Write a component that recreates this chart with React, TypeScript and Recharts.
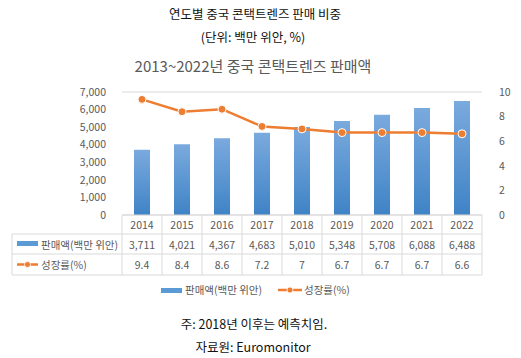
import React from 'react';
import { ComposedChart, Bar, Line, XAxis, YAxis, CartesianGrid } from 'recharts';

const years = ['2014', '2015', '2016', '2017', '2018', '2019', '2020', '2021', '2022'];
const sales = [3711, 4021, 4367, 4683, 5010, 5348, 5708, 6088, 6488];
const growth = [9.4, 8.4, 8.6, 7.2, 7, 6.7, 6.7, 6.7, 6.6];
const salesTicks = [0, 1000, 2000, 3000, 4000, 5000, 6000, 7000];
const growthTicks = [0, 2, 4, 6, 8, 10];

const data = years.map((y, i) => ({ year: y, sales: sales[i], growth: growth[i] }));

const FONT = '"Noto Sans CJK KR", "Noto Sans", sans-serif';
const TEXT = '#595959';
const GRID = '#d9d9d9';
const ORANGE = '#ed7d31';

// plot box (px, page coords)
const PLOT_LEFT = 122;
const PLOT_RIGHT = 482;
const PLOT_TOP = 92;
const PLOT_BOTTOM = 215;
const BAND = (PLOT_RIGHT - PLOT_LEFT) / years.length;
const ROW1 = 234;
const ROW2 = 254;
const ROW3 = 275;
const TABLE_LEFT = 12;

const fmt = (v: number) => v.toLocaleString('en-US');

function TableTick(props: any) {
  const { x, payload, index } = props;
  const i = payload.index ?? index;
  const l = x - BAND / 2;
  const r = x + BAND / 2;
  const last = i === years.length - 1;
  return (
    <g>
      <line x1={l} y1={PLOT_BOTTOM} x2={l} y2={ROW3} stroke={GRID} />
      {last && <line x1={r} y1={PLOT_BOTTOM} x2={r} y2={ROW3} stroke={GRID} />}
      <line x1={l} y1={ROW1} x2={r} y2={ROW1} stroke={GRID} />
      <line x1={l} y1={ROW2} x2={r} y2={ROW2} stroke={GRID} />
      <line x1={l} y1={ROW3} x2={r} y2={ROW3} stroke={GRID} />
      <text x={x} y={(PLOT_BOTTOM + ROW1) / 2} textAnchor="middle" dominantBaseline="central" fill={TEXT} fontSize={10.5} fontFamily={FONT}>
        {payload.value}
      </text>
      <text x={x} y={(ROW1 + ROW2) / 2} textAnchor="middle" dominantBaseline="central" fill={TEXT} fontSize={10.5} fontFamily={FONT}>
        {fmt(sales[i])}
      </text>
      <text x={x} y={(ROW2 + ROW3) / 2} textAnchor="middle" dominantBaseline="central" fill={TEXT} fontSize={10.5} fontFamily={FONT}>
        {growth[i]}
      </text>
      {i === 0 && (
        <g>
          <line x1={TABLE_LEFT} y1={ROW1} x2={l} y2={ROW1} stroke={GRID} />
          <line x1={TABLE_LEFT} y1={ROW2} x2={l} y2={ROW2} stroke={GRID} />
          <line x1={TABLE_LEFT} y1={ROW3} x2={l} y2={ROW3} stroke={GRID} />
          <line x1={TABLE_LEFT} y1={ROW1} x2={TABLE_LEFT} y2={ROW3} stroke={GRID} />
          <rect x={17} y={(ROW1 + ROW2) / 2 - 3} width={21} height={5} fill="#5b9bd5" />
          <text x={41} y={(ROW1 + ROW2) / 2} dominantBaseline="central" fill={TEXT} fontSize={10.5} fontFamily={FONT}>
            판매액(백만 위안)
          </text>
          <line x1={17} y1={(ROW2 + ROW3) / 2} x2={38} y2={(ROW2 + ROW3) / 2} stroke={ORANGE} strokeWidth={2.5} />
          <circle cx={27.5} cy={(ROW2 + ROW3) / 2} r={3} fill={ORANGE} stroke="#fff" strokeWidth={0.8} />
          <text x={41} y={(ROW2 + ROW3) / 2} dominantBaseline="central" fill={TEXT} fontSize={10.5} fontFamily={FONT}>
            성장률(%)
          </text>
        </g>
      )}
    </g>
  );
}

export default function App() {
  return (
    <div style={{ position: 'absolute', left: 0, top: 0, width: 521, height: 358, background: '#fff', fontFamily: FONT }}>
      <div style={{ position: 'absolute', top: 4, width: 510, textAlign: 'center', fontSize: 12.5, color: '#111' }}>
        연도별 중국 콘택트렌즈 판매 비중
      </div>
      <div style={{ position: 'absolute', top: 27, width: 506, textAlign: 'center', fontSize: 12.5, color: '#111' }}>
        (단위: 백만 위안, %)
      </div>
      <div style={{ position: 'absolute', top: 55, width: 506, textAlign: 'center', fontSize: 15, color: TEXT }}>
        2013~2022년 중국 콘택트렌즈 판매액
      </div>
      <ComposedChart
        width={521}
        height={358}
        data={data}
        margin={{ top: PLOT_TOP, bottom: 358 - PLOT_BOTTOM - 60, left: PLOT_LEFT - 60, right: 521 - PLOT_RIGHT - 30 }}
        style={{ position: 'absolute', left: 0, top: 0 }}
      >
        <defs>
          <linearGradient id="barFill" x1="0" y1="0" x2="0" y2="1">
            <stop offset="0%" stopColor="#7aaade" />
            <stop offset="100%" stopColor="#3f83c6" />
          </linearGradient>
        </defs>
        <CartesianGrid vertical={false} stroke={GRID} />
        <XAxis
          dataKey="year"
          height={60}
          interval={0}
          tickLine={false}
          axisLine={{ stroke: GRID }}
          tick={<TableTick />}
        />
        <YAxis
          yAxisId="left"
          width={60}
          domain={[0, 7000]}
          ticks={salesTicks}
          tickFormatter={fmt}
          axisLine={false}
          tickLine={false}
          tickMargin={10}
          tick={{ fill: TEXT, fontSize: 10.5, fontFamily: FONT }}
        />
        <YAxis
          yAxisId="right"
          orientation="right"
          width={30}
          domain={[0, 10]}
          ticks={growthTicks}
          axisLine={false}
          tickLine={false}
          tickMargin={11}
          tick={{ fill: TEXT, fontSize: 10.5, fontFamily: FONT }}
        />
        <Bar yAxisId="left" dataKey="sales" barSize={16} fill="url(#barFill)" isAnimationActive={false} />
        <Line
          yAxisId="right"
          dataKey="growth"
          type="linear"
          stroke={ORANGE}
          strokeWidth={2.5}
          dot={{ r: 4, fill: ORANGE, stroke: '#fff', strokeWidth: 1 }}
          isAnimationActive={false}
        />
      </ComposedChart>
      <div style={{ position: 'absolute', top: 282, left: 0, width: 521, fontSize: 10.5, color: TEXT }}>
        <div style={{ position: 'absolute', left: 161, top: 6, width: 21, height: 5, background: '#5b9bd5' }} />
        <div style={{ position: 'absolute', left: 185, top: 0, whiteSpace: 'nowrap' }}>판매액(백만 위안)</div>
        <svg style={{ position: 'absolute', left: 278, top: 3 }} width={24} height={10}>
          <line x1={0} y1={5} x2={24} y2={5} stroke={ORANGE} strokeWidth={2.5} />
          <circle cx={12} cy={5} r={3} fill={ORANGE} stroke="#fff" strokeWidth={0.8} />
        </svg>
        <div style={{ position: 'absolute', left: 304, top: 0, whiteSpace: 'nowrap' }}>성장률(%)</div>
      </div>
      <div style={{ position: 'absolute', top: 314, width: 508, textAlign: 'center', fontSize: 12.5, color: '#111' }}>
        주: 2018년 이후는 예측치임.
      </div>
      <div style={{ position: 'absolute', top: 337, width: 506, textAlign: 'center', fontSize: 12.5, color: '#111' }}>
        자료원: Euromonitor
      </div>
    </div>
  );
}
